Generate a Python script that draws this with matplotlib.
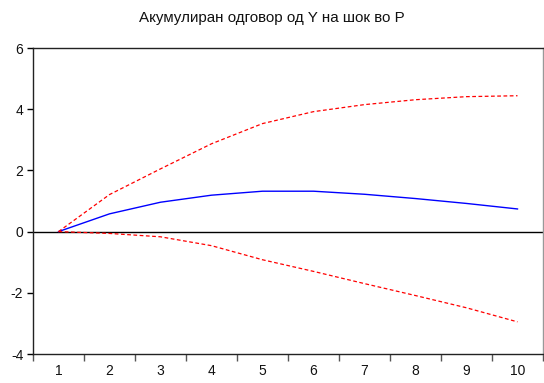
import matplotlib
matplotlib.use("Agg")
import matplotlib.pyplot as plt
import numpy as np

plt.rcParams['font.family'] = ['Liberation Sans', 'DejaVu Sans']

periods = [1, 2, 3, 4, 5, 6, 7, 8, 9, 10]
response = [0.0, 0.58, 0.96, 1.19, 1.32, 1.32, 1.22, 1.08, 0.92, 0.74]
upper_band = [0.0, 1.21, 2.05, 2.87, 3.53, 3.92, 4.15, 4.31, 4.41, 4.44]
lower_band = [0.0, -0.06, -0.17, -0.46, -0.92, -1.30, -1.70, -2.09, -2.49, -2.95]
y_ticks = [-4, -2, 0, 2, 4, 6]
title = "Акумулиран одговор од Y на шок во P"

W, H = 544, 383
fig = plt.figure(figsize=(W / 100, H / 100), dpi=100)
ax = fig.add_axes([33 / W, (H - 354) / H, 510 / W, 306 / H])

ax.axhline(0, color="black", lw=1.0)
ax.plot(periods, response, color="#0000ff", lw=1.0)
ax.plot(periods, upper_band, color="#ff0000", lw=0.9, ls=(0, (3, 2)))
ax.plot(periods, lower_band, color="#ff0000", lw=0.9, ls=(0, (3, 2)))

ax.set_xlim(0.5, 10.5)
ax.set_ylim(-4, 6)
ax.set_yticks(y_ticks)
ax.set_yticklabels([str(v) for v in y_ticks])

# category labels at centres, tick marks at boundaries
ax.set_xticks(periods)
ax.set_xticklabels([str(p) for p in periods])
ax.tick_params(axis="x", which="major", length=0, pad=7)
ax.set_xticks(np.arange(0.5, 11.0, 1.0), minor=True)
ax.tick_params(axis="x", which="minor", length=5, width=1, color="#555555", direction="out")
ax.tick_params(axis="y", length=4, width=1, direction="out", pad=3)
ax.tick_params(labelsize=10, labelcolor="#111111")

for side in ["left", "bottom", "top"]:
    ax.spines[side].set_linewidth(1.0)
    ax.spines[side].set_color("#222222")
ax.spines["right"].set_color("#999999")
ax.spines["right"].set_linewidth(1.0)

fig.text(0.5, 1 - 18 / H, title, ha="center", va="center", fontsize=10.9, color="#111111")

fig.savefig("out.png", dpi=100)
